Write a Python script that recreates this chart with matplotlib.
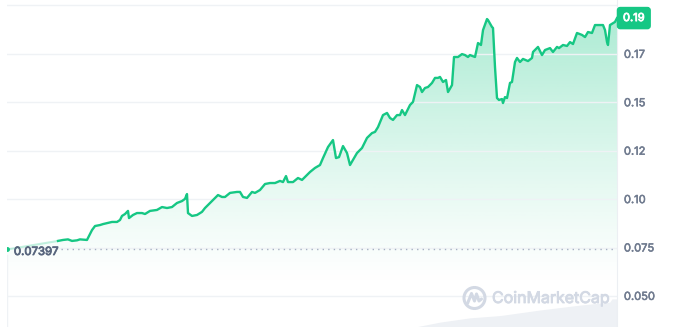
import numpy as np
import matplotlib
matplotlib.use("Agg")
import matplotlib.pyplot as plt
import matplotlib.transforms as mtransforms
import matplotlib.patheffects as pe
from matplotlib.patches import Circle

# price over the last 7 days (hours since start)
hours = [0.0, 7.0,
         14.05, 15.42, 16.80, 17.90, 19.28, 20.10, 22.03, 23.41, 24.24, 25.61,
         26.44, 27.82, 28.92, 30.30, 31.12, 31.67, 32.50, 33.32, 33.60, 34.70,
         35.80, 37.18, 38.01, 39.38, 41.31, 42.69, 44.07, 45.44, 46.82, 48.20,
         49.02, 49.57, 49.85, 50.95, 52.33, 53.70, 54.53, 55.91, 56.73, 58.11,
         59.21, 60.04, 61.42, 63.34, 64.17, 65.00, 66.10, 67.48, 68.30, 69.68,
         71.06, 72.43, 73.81, 75.19, 76.01, 76.84, 77.39, 78.77, 80.14, 81.25,
         82.62, 83.45, 84.83, 86.20, 87.03, 88.41, 89.78, 90.61, 91.44, 92.54,
         93.64, 94.47, 95.29, 96.39, 97.77, 99.15, 100.52, 101.35, 102.18, 103.55,
         104.66, 105.48, 106.31, 107.41, 108.24, 108.79, 109.61, 110.99, 111.82, 112.92,
         113.74, 114.30, 115.12, 115.95, 117.05, 117.88, 118.70, 119.25, 120.08, 120.91,
         121.46, 122.56, 123.11, 124.21, 125.31, 126.14, 126.96, 127.51, 128.89, 129.72,
         130.54, 131.10, 132.20, 132.47, 133.57, 133.85, 134.40, 134.95, 135.50, 136.33,
         136.60, 137.15, 137.71, 138.53, 139.08, 139.91, 140.46, 141.29, 142.11, 143.49,
         144.59, 144.87, 146.24, 147.34, 148.17, 149.55, 150.37, 151.48, 152.03, 153.13,
         154.23, 155.06, 155.88, 156.98, 158.36, 159.19, 160.01, 161.11, 161.94, 163.32,
         164.14, 164.70, 165.25, 165.52, 166.07, 167.45, 168.0]
price = [0.07397, 0.0762,
         0.0784, 0.0789, 0.0792, 0.0784, 0.0787, 0.0792, 0.0789, 0.0840, 0.0861, 0.0866,
         0.0871, 0.0877, 0.0882, 0.0882, 0.0892, 0.0913, 0.0923, 0.0939, 0.0902, 0.0918,
         0.0928, 0.0928, 0.0923, 0.0939, 0.0944, 0.0959, 0.0954, 0.0959, 0.0980, 0.0990,
         0.1001, 0.1026, 0.0928, 0.0913, 0.0918, 0.0934, 0.0954, 0.0980, 0.0995, 0.1021,
         0.1011, 0.1011, 0.1032, 0.1037, 0.1037, 0.1011, 0.1006, 0.1037, 0.1032, 0.1047,
         0.1078, 0.1083, 0.1083, 0.1094, 0.1088, 0.1119, 0.1088, 0.1088, 0.1109, 0.1099,
         0.1125, 0.1140, 0.1161, 0.1176, 0.1212, 0.1269, 0.1305, 0.1212, 0.1217, 0.1274,
         0.1238, 0.1176, 0.1202, 0.1238, 0.1264, 0.1316, 0.1341, 0.1347, 0.1372, 0.1434,
         0.1445, 0.1419, 0.1409, 0.1434, 0.1434, 0.1460, 0.1434, 0.1486, 0.1502, 0.1589,
         0.1579, 0.1553, 0.1574, 0.1579, 0.1600, 0.1626, 0.1626, 0.1631, 0.1605, 0.1615,
         0.1553, 0.1589, 0.1734, 0.1734, 0.1749, 0.1744, 0.1734, 0.1744, 0.1734, 0.1806,
         0.1796, 0.1873, 0.1930, 0.1925, 0.1889, 0.1884, 0.1682, 0.1522, 0.1512, 0.1517,
         0.1496, 0.1527, 0.1522, 0.1600, 0.1605, 0.1708, 0.1729, 0.1708, 0.1724, 0.1713,
         0.1729, 0.1760, 0.1786, 0.1744, 0.1770, 0.1780, 0.1760, 0.1786, 0.1780, 0.1796,
         0.1791, 0.1811, 0.1801, 0.1858, 0.1848, 0.1837, 0.1863, 0.1858, 0.1899, 0.1899,
         0.1899, 0.1873, 0.1811, 0.1796, 0.1899, 0.1915, 0.1935]

open_price = 0.07397
last_label = "0.19"

# volume (only the tail shows above the bottom edge)
vol_hours = [112.4, 119.3, 127.5, 135.8, 146.8, 157.8, 166.0, 166.6, 168.0]
volume = [0.0, 1.5, 2.8, 3.5, 5.2, 6.7, 7.6, 8.6, 8.6]

yticks = [0.05, 0.075, 0.10, 0.125, 0.15, 0.175, 0.2]
ylabels = ["0.050", "0.075", "0.10", "0.12", "0.15", "0.17", ""]

green = "#16c784"
grid_c = "#eff2f5"
text_c = "#58667e"
tick_c = "#707b8f"
plt.rcParams["font.family"] = ["Inter", "DejaVu Sans"]

fig = plt.figure(figsize=(6.74, 3.27), dpi=100)
ax = fig.add_axes([7 / 674, 0, 610 / 674, 1])
axv = ax.twinx()
ax.set_zorder(axv.get_zorder() + 1)
ax.patch.set_visible(False)

ymin, ymax = 0.03394, 0.20284
ax.set_xlim(0, 168)
ax.set_ylim(ymin, ymax)

# volume area
axv.set_ylim(0, 100)
axv.fill_between(vol_hours, volume, color="#eef1f5", lw=0)
axv.axis("off")

# gradient fill under the price line
poly = ax.fill_between(hours, price, ymin, facecolor="none", edgecolor="none")
n = 256
grad = np.zeros((n, 1, 4))
grad[:, 0, 0] = 22 / 255
grad[:, 0, 1] = 199 / 255
grad[:, 0, 2] = 132 / 255
lv = np.linspace(ymin, ymax, n)
grad[:, 0, 3] = np.clip((lv - 0.055) / (ymax - 0.055), 0, 1) ** 1.2 * 0.38
img = ax.imshow(grad, extent=[0, 168, ymin, ymax], aspect="auto",
                origin="lower", zorder=1)
img.set_clip_path(poly.get_paths()[0], transform=ax.transData)

# price line
ax.plot(hours[:3], price[:3], color=green, alpha=0.25, lw=1.5, zorder=3)
ax.plot(hours[2:], price[2:], color=green, lw=1.7, zorder=4,
        solid_joinstyle="round")
ax.plot([hours[0]], [price[0]], "o", color=green, ms=2.5, zorder=5)

# open price reference
ax.hlines(open_price, 15.0, 168, colors="#a6b0c3", lw=1,
          linestyles=(0, (1, 3)), zorder=2)
off = mtransforms.offset_copy(ax.transData, fig=fig, x=0, y=-2.5, units="dots")
ax.text(1.9, open_price, "0.07397", transform=off, ha="left", va="center",
        fontsize=8.2, color=text_c, zorder=6,
        path_effects=[pe.withStroke(linewidth=0.6, foreground=text_c)])

# axes styling
ax.set_yticks(yticks)
ax.set_yticklabels(ylabels)
ax.yaxis.tick_right()
ax.tick_params(axis="y", length=0, pad=5, labelsize=8, labelcolor=tick_c)
for lab in ax.get_yticklabels():
    lab.set_path_effects([pe.withStroke(linewidth=0.4, foreground=tick_c)])
ax.set_xticks([])
ax.grid(axis="y", color=grid_c, lw=1, zorder=0)
for s in ["top", "left", "bottom"]:
    ax.spines[s].set_visible(False)
ax.spines["right"].set_color("#eceff3")
ax.axvline(0, 0, 0.22, color=grid_c, lw=1)

# last price badge
boff = mtransforms.offset_copy(
    mtransforms.blended_transform_factory(ax.transAxes, ax.transData),
    fig=fig, x=6, y=0, units="dots")
ax.text(1.0, price[-1], last_label, transform=boff, ha="left", va="center",
        fontsize=8, color="white", zorder=10, clip_on=False,
        path_effects=[pe.withStroke(linewidth=0.6, foreground="white")],
        bbox=dict(boxstyle="round,pad=0.5,rounding_size=0.25", fc=green,
                  ec=green))

# watermark
wm = fig.add_axes([0, 0, 1, 1], zorder=20)
wm.set_xlim(0, 674)
wm.set_ylim(327, 0)
wm.axis("off")
wm_c = "#d3d9e4"
wm.add_patch(Circle((474.5, 298), 10.5, fill=False, ec=wm_c, lw=2.2))
wm.plot([467.5, 471.5, 474.5, 476.5, 479, 481.5],
        [303.5, 293.5, 301, 294, 301, 299], color=wm_c, lw=2.2,
        solid_capstyle="round", solid_joinstyle="round")
wm.text(492, 298.5, "CoinMarketCap", ha="left", va="center", fontsize=11.5,
        color=wm_c,
        path_effects=[pe.withStroke(linewidth=0.6, foreground=wm_c)])

fig.savefig("out.png", dpi=100)
